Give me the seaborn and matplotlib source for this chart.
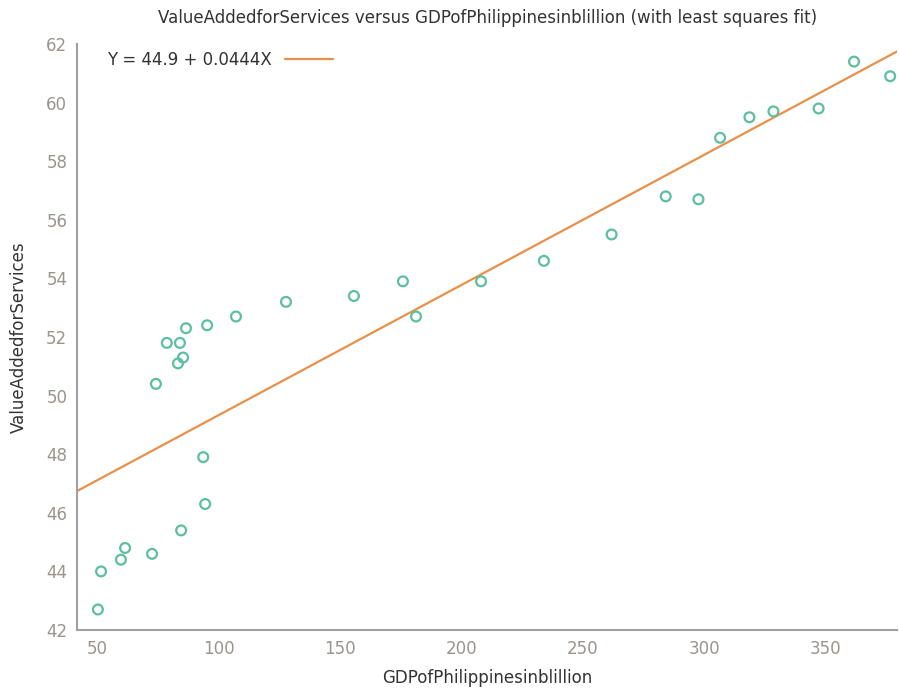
import matplotlib
matplotlib.use("Agg")
import matplotlib.pyplot as plt
import numpy as np
import pandas as pd
import seaborn as sns

# GDP of Philippines (billion) vs value added for services (% of GDP)
gdp = [50.1, 51.4, 59.6, 61.3, 72.4, 84.4, 94.3, 93.5, 74.0, 78.5, 83.9,
       83.1, 85.2, 86.4, 95.1, 107.0, 127.6, 155.6, 175.8, 181.2, 208.0,
       233.9, 261.8, 284.1, 297.6, 306.5, 318.6, 328.5, 347.1, 361.7, 376.6]
services = [42.7, 44.0, 44.4, 44.8, 44.6, 45.4, 46.3, 47.9, 50.4, 51.8, 51.8,
            51.1, 51.3, 52.3, 52.4, 52.7, 53.2, 53.4, 53.9, 52.7, 53.9,
            54.6, 55.5, 56.8, 56.7, 58.8, 59.5, 59.7, 59.8, 61.4, 60.9]
fit_intercept = 44.9
fit_slope = 0.0444
x_range = [41.5, 379.5]
y_range = [42, 62]
x_ticks = [50, 100, 150, 200, 250, 300, 350]
y_ticks = [42, 44, 46, 48, 50, 52, 54, 56, 58, 60, 62]

POINT_COLOR = "#5dbf9b"
LINE_COLOR = "#e8904a"
AXIS_COLOR = "#a0a0a0"
TICK_COLOR = "#9a948c"
TEXT_COLOR = "#333333"
FS = 12

sns.set_style("white")
plt.rcParams["font.family"] = ["DejaVu Sans"]

df = pd.DataFrame({"gdp": gdp, "services": services})
fit_x = np.array(x_range)
fit_df = pd.DataFrame({"gdp": fit_x, "fit": fit_intercept + fit_slope * fit_x})

fig = plt.figure(figsize=(8.99, 6.88), dpi=100)
ax = fig.add_axes([0.0857, 0.0843, 0.9123, 0.8517])

sns.lineplot(data=fit_df, x="gdp", y="fit", ax=ax, color=LINE_COLOR, linewidth=1.6,
             label=f"Y = {fit_intercept} + {fit_slope}X")
sns.scatterplot(data=df, x="gdp", y="services", ax=ax, marker="o", s=50,
                facecolor="none", edgecolor=POINT_COLOR, linewidth=1.6, zorder=3)

ax.set_xlim(*x_range)
ax.set_ylim(*y_range)
ax.set_xticks(x_ticks)
ax.set_yticks(y_ticks)
ax.tick_params(direction="in", length=6, width=1.2, color=AXIS_COLOR,
               labelcolor=TICK_COLOR, labelsize=FS, pad=7)
for side in ("top", "right"):
    ax.spines[side].set_visible(False)
for side in ("left", "bottom"):
    ax.spines[side].set_color(AXIS_COLOR)
    ax.spines[side].set_linewidth(1.5)

ax.set_xlabel("GDPofPhilippinesinblillion", color=TEXT_COLOR, fontsize=FS, labelpad=8)
ax.set_ylabel("ValueAddedforServices", color=TEXT_COLOR, fontsize=FS, labelpad=13)
ax.set_title("ValueAddedforServices versus GDPofPhilippinesinblillion (with least squares fit)",
             color=TEXT_COLOR, fontsize=FS, pad=15)

leg = ax.legend(loc="upper left", bbox_to_anchor=(0.028, 1.0), borderaxespad=0,
                frameon=False, markerfirst=False, fontsize=FS,
                handlelength=2.9, handletextpad=0.8)
for t in leg.get_texts():
    t.set_color(TEXT_COLOR)

fig.savefig("out.png", dpi=100)
